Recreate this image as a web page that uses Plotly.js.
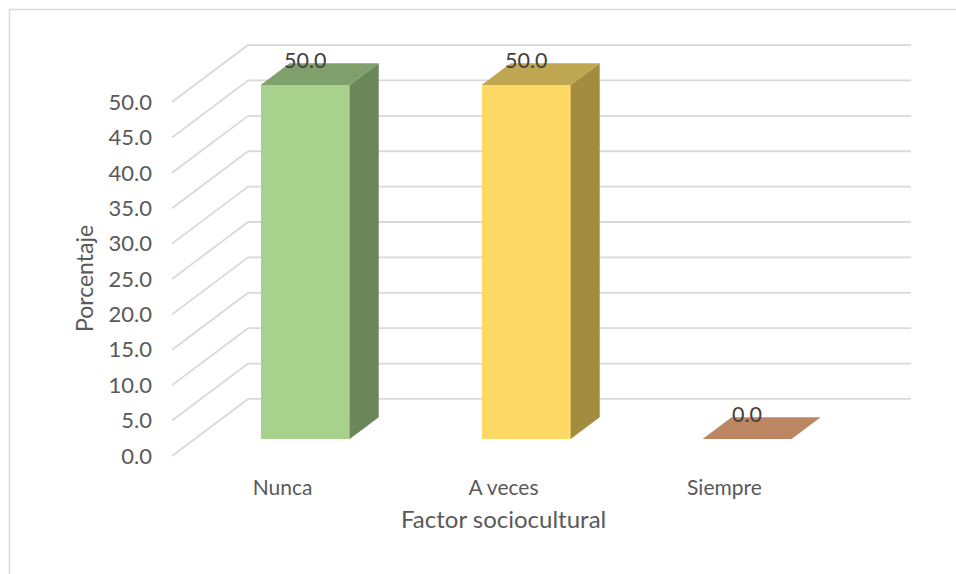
<!DOCTYPE html>
<html>
<head>
<meta charset="utf-8">
<script src="https://cdn.plot.ly/plotly-3.0.1.min.js"></script>
<style>html,body{margin:0;padding:0;background:#fff;}#chart{width:956px;height:574px;}</style>
</head>
<body>
<div id="chart"></div>
<script>
// ---- data ----
const categories = ['Nunca', 'A veces', 'Siempre'];
const values = [50.0, 50.0, 0.0];
const yTickValues = [0, 5, 10, 15, 20, 25, 30, 35, 40, 45, 50];
const xTitle = 'Factor sociocultural';
const yTitle = 'Porcentaje';

// ---- styles ----
const frontColors = ['#a9d18e', '#ffd966', '#c9906c'];
const sideColors  = ['#6b8759', '#a38b3f', '#a8704f'];
const topColors   = ['#80a06b', '#bfa650', '#bd8663'];
const gridColor = '#d9d9d9';
const textColor = '#595959';
const FONT = 'Lato, "Open Sans", sans-serif';

// 3D projection (depth expressed in axis units)
const W = 956, H = 574;
const DX = 0.344;   // full depth, x units
const DY = 8.05;    // full depth, y units
const dF = 0.298;   // bar front depth fraction
const dB = 0.68;    // bar back depth fraction
const barW = 0.403;
const xr = [-0.55, 2.5 + DX + 0.05];
const yr = [-1, 50 + DY + 1];
const M = {l: 161, r: 34, t: 38, b: 111};
const plotW = W - M.l - M.r, plotH = H - M.t - M.b;
const pxX = p => (p - M.l) / plotW;
const pxY = p => (H - M.b - p) / plotH;

// gridlines (front diagonals + back wall)
const shapes = [];
yTickValues.forEach(v => {
  shapes.push({type: 'line', layer: 'below', xref: 'x', yref: 'y',
    x0: -0.5, y0: v, x1: -0.5 + DX, y1: v + DY, line: {color: gridColor, width: 1.8}});
  shapes.push({type: 'line', layer: 'below', xref: 'x', yref: 'y',
    x0: -0.5 + DX, y0: v + DY, x1: 2.5 + DX, y1: v + DY, line: {color: gridColor, width: 1.8}});
});
// outer chart border
shapes.push({type: 'rect', xref: 'paper', yref: 'paper',
  x0: pxX(9.5), y0: pxY(600), x1: pxX(1000), y1: pxY(9.5),
  line: {color: gridColor, width: 1.5}, fillcolor: 'rgba(0,0,0,0)'});

const traces = [];
// front faces
traces.push({
  type: 'bar',
  x: categories.map((c, i) => i + dF * DX),
  y: values,
  base: values.map(() => dF * DY),
  width: barW,
  marker: {color: frontColors, line: {width: 0}},
  hoverinfo: 'skip', showlegend: false
});
// side and top faces
categories.forEach((c, i) => {
  const v = values[i];
  const xl = i + dF * DX - barW / 2, xrr = i + dF * DX + barW / 2;
  const b0 = dF * DY, ddx = (dB - dF) * DX, ddy = (dB - dF) * DY;
  if (v > 0) {
    traces.push({type: 'scatter', mode: 'lines', fill: 'toself',
      x: [xrr, xrr, xrr + ddx, xrr + ddx, xrr],
      y: [b0, b0 + v, b0 + v + ddy, b0 + ddy, b0],
      fillcolor: sideColors[i], line: {width: 0, color: sideColors[i]},
      hoverinfo: 'skip', showlegend: false});
  }
  traces.push({type: 'scatter', mode: 'lines', fill: 'toself',
    x: [xl, xrr, xrr + ddx, xl + ddx, xl],
    y: [b0 + v, b0 + v, b0 + v + ddy, b0 + v + ddy, b0 + v],
    fillcolor: topColors[i], line: {width: 0, color: topColors[i]},
    hoverinfo: 'skip', showlegend: false});
});

const annotations = categories.map((c, i) => ({
  xref: 'x', yref: 'y', x: i + dF * DX, y: values[i] + dF * DY, yshift: 25,
  xanchor: 'center', yanchor: 'middle',
  text: values[i].toFixed(1), showarrow: false,
  font: {family: FONT, size: 21.5, color: '#404040'}
}));
annotations.push({xref: 'x', yref: 'paper', x: 1, y: pxY(518), xanchor: 'center', yanchor: 'middle',
  text: xTitle, showarrow: false, font: {family: FONT, size: 24, color: textColor}});
annotations.push({xref: 'paper', yref: 'y', x: pxX(84), y: 25, xanchor: 'center', yanchor: 'middle',
  text: yTitle, textangle: -90, showarrow: false, font: {family: FONT, size: 23, color: textColor}});

const layout = {
  width: W, height: H,
  margin: M,
  paper_bgcolor: '#fff', plot_bgcolor: 'rgba(0,0,0,0)',
  showlegend: false,
  bargap: 0,
  xaxis: {range: xr, tickvals: [0, 1, 2], ticktext: categories, showgrid: false,
    zeroline: false, showline: false, ticks: '', ticklabelstandoff: 10,
    tickfont: {family: FONT, size: 21, color: textColor}, fixedrange: true},
  yaxis: {range: yr, tickvals: yTickValues, tickformat: '.1f', showgrid: false,
    zeroline: false, showline: false, ticks: '', ticklabelstandoff: 8,
    tickfont: {family: FONT, size: 22, color: textColor}, fixedrange: true},
  shapes: shapes,
  annotations: annotations
};

Plotly.newPlot('chart', traces, layout, {displayModeBar: false, staticPlot: true});
</script>
</body>
</html>
